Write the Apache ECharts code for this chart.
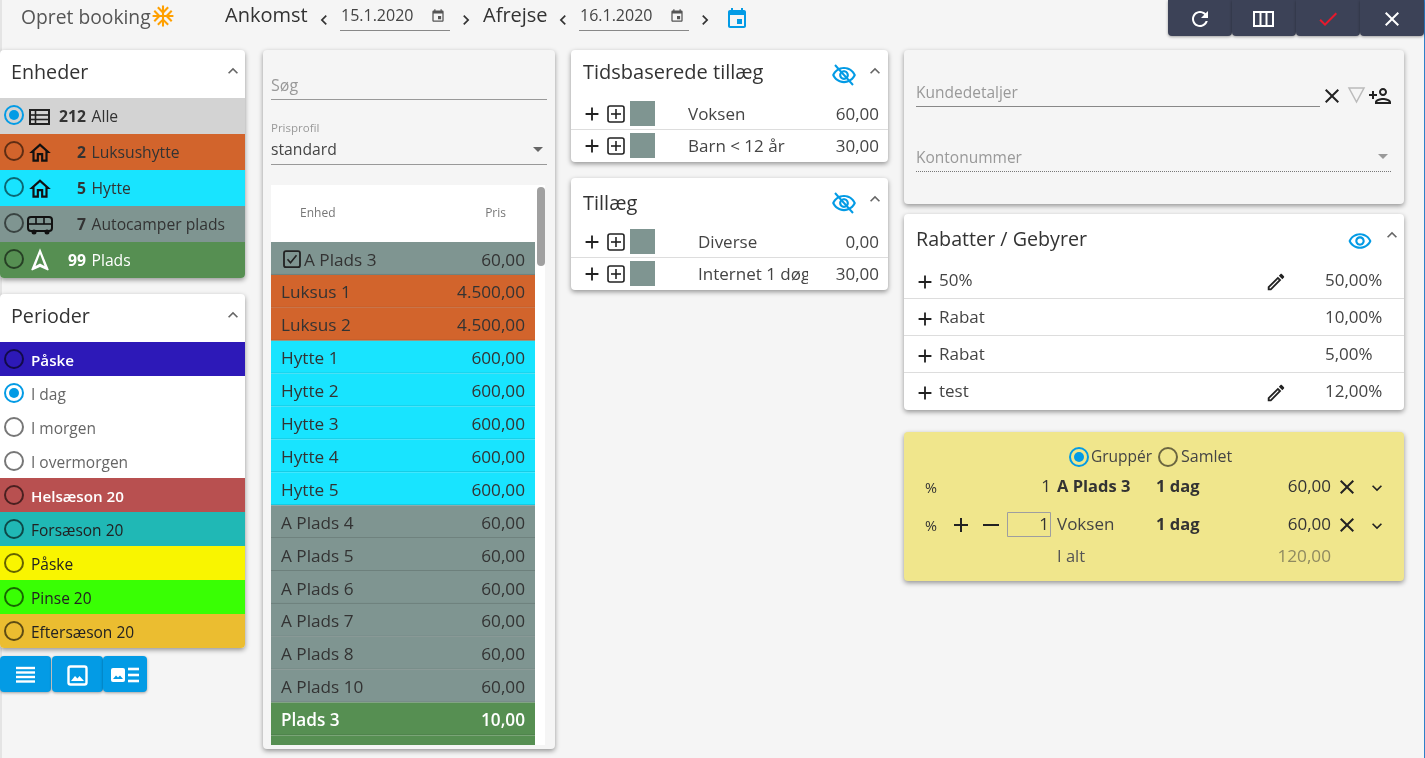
<!DOCTYPE html>
<html>
<head>
<meta charset="utf-8">
<title>Opret booking</title>
<style>
html,body{margin:0;padding:0;background:#f5f5f5;}
#main{width:1425px;height:758px;}
</style>
<script src="https://cdn.jsdelivr.net/npm/echarts@6/dist/echarts.min.js"></script>
</head>
<body>
<div id="main"></div>
<script>
// data
var unitCounts = ['212', '2', '5', '7', '99'];
var unitNames = ['Alle', 'Luksushytte', 'Hytte', 'Autocamper plads', 'Plads'];
var unitColors = ['#d3d3d3', '#d2642c', '#18e4ff', '#7f9591', '#568f52'];
var periodNames = ['Påske', 'I dag', 'I morgen', 'I overmorgen', 'Helsæson 20', 'Forsæson 20', 'Påske', 'Pinse 20', 'Eftersæson 20'];
var periodColors = ['#2d19b8', '#ffffff', '#ffffff', '#ffffff', '#b85050', '#20b8b5', '#f9f500', '#39ff04', '#ebbd30'];
var periodText = ['#ffffff', '#666666', '#666666', '#666666', '#ffffff', '#222222', '#222222', '#222222', '#222222'];
var priceNames = ['A Plads 3', 'Luksus 1', 'Luksus 2', 'Hytte 1', 'Hytte 2', 'Hytte 3', 'Hytte 4', 'Hytte 5', 'A Plads 4', 'A Plads 5', 'A Plads 6', 'A Plads 7', 'A Plads 8', 'A Plads 10', 'Plads 3', ''];
var priceValues = ['60,00', '4.500,00', '4.500,00', '600,00', '600,00', '600,00', '600,00', '600,00', '60,00', '60,00', '60,00', '60,00', '60,00', '60,00', '10,00', ''];
var priceColors = ['#7f9591', '#d2642c', '#d2642c', '#18e4ff', '#18e4ff', '#18e4ff', '#18e4ff', '#18e4ff', '#7f9591', '#7f9591', '#7f9591', '#7f9591', '#7f9591', '#7f9591', '#568f52', '#568f52'];
var timedNames = ['Voksen', 'Barn < 12 år'];
var timedValues = ['60,00', '30,00'];
var extraNames = ['Diverse', 'Internet 1 døgn'];
var extraValues = ['0,00', '30,00'];
var discountNames = ['50%', 'Rabat', 'Rabat', 'test'];
var discountValues = ['50,00%', '10,00%', '5,00%', '12,00%'];
var discountEditable = [true, false, false, true];

var FONT = '"Open Sans", sans-serif';
var BLUE = '#039be5';
var INK = '#333333';

// material icon paths, all on a 24 box
var ICON = {
  up: 'M12 8l-6 6 1.41 1.41L12 10.83l4.59 4.58L18 14z',
  down: 'M16.59 8.59L12 13.17 7.41 8.59 6 10l6 6 6-6z',
  left: 'M15.41 7.41L14 6l-6 6 6 6 1.41-1.41L10.83 12z',
  right: 'M10 6L8.59 7.41 13.17 12l-4.58 4.59L10 18l6-6z',
  event: 'M17 12h-5v5h5v-5zM16 1v2H8V1H6v2H5c-1.11 0-1.99.9-1.99 2L3 19c0 1.1.89 2 2 2h14c1.1 0 2-.9 2-2V5c0-1.1-.9-2-2-2h-1V1h-2zm3 18H5V8h14v11z',
  home: 'M12 5.69l5 4.5V18h-2v-6H9v6H7v-7.81l5-4.5M12 3L2 12h3v8h6v-6h2v6h6v-8h3L12 3z',
  nav: 'M12 2L4.5 20.29l.71.71L12 18l6.79 3 .71-.71z',
  eye: 'M12 6.5c3.79 0 7.17 2.13 8.82 5.5-1.65 3.37-5.02 5.5-8.82 5.5S4.83 15.37 3.18 12C4.83 8.63 8.21 6.5 12 6.5m0-2C7 4.5 2.73 7.61 1 12c1.73 4.39 6 7.5 11 7.5s9.27-3.11 11-7.5C21.27 7.61 17 4.5 12 4.5zm0 5c1.38 0 2.5 1.12 2.5 2.5s-1.12 2.5-2.5 2.5-2.5-1.12-2.5-2.5 1.12-2.5 2.5-2.5m0-2c-2.48 0-4.5 2.02-4.5 4.5s2.02 4.5 4.5 4.5 4.5-2.02 4.5-4.5-2.02-4.5-4.5-4.5z',
  add: 'M19 13h-6v6h-2v-6H5v-2h6V5h2v6h6v2z',
  close: 'M19 6.41L17.59 5 12 10.59 6.41 5 5 6.41 10.59 12 5 17.59 6.41 19 12 13.41 17.59 19 19 17.59 13.41 12z',
  check: 'M9 16.17L4.83 12l-1.42 1.41L9 19 21 7l-1.41-1.41z',
  refresh: 'M17.65 6.35C16.2 4.9 14.21 4 12 4c-4.42 0-7.99 3.58-7.99 8s3.57 8 7.99 8c3.73 0 6.84-2.55 7.73-6h-2.08c-.82 2.33-3.04 4-5.65 4-3.31 0-6-2.69-6-6s2.69-6 6-6c1.66 0 3.14.69 4.22 1.78L13 11h7V4l-2.35 2.35z',
  edit: 'M14.06 9.02l.92.92L5.92 19H5v-.92l9.06-9.06M17.66 3c-.25 0-.51.1-.7.29l-1.83 1.83 3.75 3.75 1.83-1.83c.39-.39.39-1.02 0-1.41l-2.34-2.34c-.2-.2-.45-.29-.71-.29zm-3.6 3.19L3 17.25V21h3.75L17.81 9.94l-3.75-3.75z',
  person: 'M15 12c2.21 0 4-1.79 4-4s-1.79-4-4-4-4 1.79-4 4 1.79 4 4 4zm0-6c1.1 0 2 .9 2 2s-.9 2-2 2-2-.9-2-2 .9-2 2-2zm0 8c-2.67 0-8 1.34-8 4v2h16v-2c0-2.66-5.33-4-8-4zm-6 4c.22-.72 3.31-2 6-2 2.7 0 5.8 1.29 6 2H9zm-3-3v-3h3v-2H6V7H4v3H1v2h3v3h2z',
  snow: 'M22 11h-4.17l3.24-3.24-1.41-1.42L15 11h-2V9l4.66-4.66-1.42-1.41L13 6.17V2h-2v4.17L7.76 2.93 6.34 4.34 11 9v2H9L4.34 6.34 2.93 7.76 6.17 11H2v2h4.17l-3.24 3.24 1.41 1.42L9 13h2v2l-4.66 4.66 1.42 1.41L11 17.83V22h2v-4.17l3.24 3.24 1.42-1.41L13 15v-2h2l4.66 4.66 1.41-1.42L17.83 13H22z'
};

// drawing helpers
function rect(x, y, w, h, fill, r, extra) {
  var style = { fill: fill };
  for (var k in (extra || {})) style[k] = extra[k];
  return { type: 'rect', shape: { x: x, y: y, width: w, height: h, r: r || 0 }, style: style };
}
function card(x, y, w, h, fill) {
  return rect(x, y, w, h, fill, 4, { shadowBlur: 5, shadowOffsetY: 2, shadowColor: 'rgba(0,0,0,0.4)' });
}
function line(x1, y1, x2, y2, color, width, dash) {
  return { type: 'line', shape: { x1: x1, y1: y1, x2: x2, y2: y2 },
    style: { stroke: color, lineWidth: width || 1, lineDash: dash || null } };
}
function text(str, x, y, size, color, align, weight) {
  return { type: 'text', style: {
    text: str, x: x, y: y + 1.5, fill: color || INK, align: align || 'left', verticalAlign: 'middle',
    font: (weight || 'normal') + ' ' + size + 'px ' + FONT
  } };
}
function icon(name, cx, cy, size, color) {
  return { type: 'path', shape: {
    pathData: 'M0 0h0M24 24h0' + ICON[name], layout: 'cover',
    x: cx - size / 2, y: cy - size / 2, width: size, height: size
  }, style: { fill: color || INK } };
}
function radio(cx, cy, color, selected) {
  var out = [{ type: 'circle', shape: { cx: cx, cy: cy, r: 9 }, style: { fill: 'none', stroke: color, lineWidth: 2 } }];
  if (selected) out.push({ type: 'circle', shape: { cx: cx, cy: cy, r: 5 }, style: { fill: color } });
  return out;
}
function addBox(cx, cy) {
  return [rect(cx - 8, cy - 8, 16, 16, 'none', 2, { stroke: '#222', lineWidth: 1.6 }),
    line(cx - 5, cy, cx + 5, cy, '#222', 1.6), line(cx, cy - 5, cx, cy + 5, '#222', 1.6)];
}
function addBoxChecked(cx, cy) {
  return [rect(cx - 8, cy - 8, 16, 16, 'none', 2, { stroke: '#222', lineWidth: 1.8 }),
    { type: 'polyline', shape: { points: [[cx - 4.5, cy], [cx - 1.5, cy + 3.5], [cx + 4.5, cy - 4]] }, style: { fill: 'none', stroke: '#222', lineWidth: 1.6 } }];
}

function buildChrome() {
  var c = [];
  function push(a) { c = c.concat(a); }
  c.push(rect(0, 0, 1425, 758, '#f5f5f5'));
  c.push(rect(0, 0, 2, 758, '#e4e4e4'));
  c.push(rect(1424, 0, 1, 758, '#2e80c8'));

  // top bar
  c.push(text('Opret booking', 21, 17, 19.3, '#555'));
  c.push(icon('snow', 163, 16, 25, '#ffa000'));
  c.push(text('Ankomst', 225, 15, 20, INK));
  c.push(icon('left', 324, 20, 20, INK));
  c.push(text('15.1.2020', 341, 15, 16, '#444'));
  c.push(icon('event', 438, 16, 15, '#555'));
  c.push(line(340, 30.5, 450, 30.5, '#888'));
  c.push(icon('right', 466, 20, 20, INK));
  c.push(text('Afrejse', 483, 15, 20, INK));
  c.push(icon('left', 563, 20, 20, INK));
  c.push(text('16.1.2020', 580, 15, 16, '#444'));
  c.push(icon('event', 677, 16, 15, '#555'));
  c.push(line(579, 30.5, 689, 30.5, '#888'));
  c.push(icon('right', 705, 20, 20, INK));
  c.push(icon('event', 737, 19, 24, BLUE));

  // action buttons
  [1168, 1232, 1296, 1360].forEach(function (x) {
    c.push(rect(x, 0, 64, 36, '#3c4257', [0, 0, 4, 4], { shadowBlur: 3, shadowOffsetY: 1, shadowColor: 'rgba(0,0,0,0.35)' }));
  });
  c.push(icon('refresh', 1200, 19, 24, '#fff'));
  c.push(rect(1254, 12, 19, 14, 'none', 0, { stroke: '#fff', lineWidth: 2 }));
  c.push(line(1260.5, 12, 1260.5, 26, '#fff', 2));
  c.push(line(1266.5, 12, 1266.5, 26, '#fff', 2));
  c.push(icon('check', 1328, 19, 24, '#e8192c'));
  c.push(icon('close', 1392, 19, 24, '#fff'));

  // Enheder
  c.push(card(0, 50, 245, 228, '#fff'));
  c.push(text('Enheder', 11, 72, 19.7, INK));
  c.push(icon('up', 233, 71, 20, '#666'));
  unitNames.forEach(function (name, i) {
    var y = 98 + 36 * i, cy = y + 18, isLast = i === 4;
    c.push(rect(0, y, 245, 36, unitColors[i], isLast ? [0, 0, 4, 4] : 0));
    push(radio(14, cy - 1, i === 0 ? BLUE : 'rgba(0,0,0,0.55)', i === 0));
    c.push(text(unitCounts[i], 86, cy, 15.7, isLast ? '#fff' : INK, 'right', 'bold'));
    c.push(text(name, 91.5, cy, 15.7, isLast ? '#fff' : INK));
  });
  c.push(rect(30, 110, 19, 14, 'none', 0, { stroke: '#222', lineWidth: 2 }));
  c.push(line(30, 115, 49, 115, '#222', 1.6), line(30, 119.5, 49, 119.5, '#222', 1.6), line(35.5, 110, 35.5, 124, '#222', 1.6));
  c.push(icon('home', 40, 153, 26, '#111'), icon('home', 40, 189, 26, '#111'));
  c.push(rect(28, 217, 24, 14, 'none', 3, { stroke: '#111', lineWidth: 2 }));
  c.push(line(28, 224, 52, 224, '#111', 1.6), line(36, 217, 36, 224, '#111', 1.6), line(44, 217, 44, 224, '#111', 1.6));
  c.push({ type: 'circle', shape: { cx: 34, cy: 232, r: 2.5 }, style: { fill: '#111' } });
  c.push({ type: 'circle', shape: { cx: 47, cy: 232, r: 2.5 }, style: { fill: '#111' } });
  c.push(icon('nav', 40, 260, 28, '#fff'));
  c.push({ type: 'polygon', shape: { points: [[40, 254], [35.5, 266], [40, 263.5], [44.5, 266]] }, style: { fill: '#568f52' } });

  // Perioder
  c.push(card(0, 294, 245, 354, '#fff'));
  c.push(text('Perioder', 11, 316, 19.7, INK));
  c.push(icon('up', 233, 315, 20, '#666'));
  periodNames.forEach(function (name, i) {
    var y = 342 + 34 * i, cy = y + 18;
    c.push(rect(0, y, 245, 34, periodColors[i], i === 8 ? [0, 0, 4, 4] : 0));
    var plain = periodColors[i] === '#ffffff';
    push(radio(14, cy - 1, i === 1 ? BLUE : (plain ? '#777' : 'rgba(0,0,0,0.6)'), i === 1));
    var bold = periodText[i] === '#ffffff';
    c.push(text(name, 31, cy, bold ? 15.2 : 15.5, periodText[i], 'left', bold ? 600 : 'normal'));
  });

  // view buttons
  [[0, 51], [52, 51], [103, 44]].forEach(function (b) {
    c.push(rect(b[0], 656, b[1], 36, BLUE, 4, { shadowBlur: 3, shadowOffsetY: 1, shadowColor: 'rgba(0,0,0,0.35)' }));
  });
  [668, 672.5, 677, 681.5].forEach(function (y) { c.push(line(16, y, 35, y, '#fff', 2.4)); });
  c.push(rect(68.5, 666.5, 18, 18, 'none', 2, { stroke: '#fff', lineWidth: 2.4 }));
  c.push({ type: 'polygon', shape: { points: [[71, 681], [75, 676], [77.5, 678.5], [79.5, 676], [84, 681]] }, style: { fill: '#fff' } });
  c.push(rect(111, 668, 14, 14, '#fff', 2));
  c.push({ type: 'polygon', shape: { points: [[113, 679], [116, 675.5], [118, 677.5], [120, 675.5], [123, 679]] }, style: { fill: BLUE } });
  [669, 675, 681].forEach(function (y) { c.push(line(128, y, 139, y, '#fff', 2.6)); });

  // search and price panel
  c.push(card(263, 50, 292, 699, '#f5f5f5'));
  c.push(text('Søg', 271, 85, 16, '#999'));
  c.push(line(271, 99.5, 547, 99.5, '#999'));
  c.push(text('Prisprofil', 271, 127, 11.5, '#999'));
  c.push(text('standard', 271, 149, 15.7, '#444'));
  c.push(line(271, 164.5, 547, 164.5, '#999'));
  c.push({ type: 'polygon', shape: { points: [[533, 147], [543, 147], [538, 152]] }, style: { fill: '#666' } });
  c.push(rect(271, 185, 274, 560, '#fff'));
  c.push(text('Enhed', 300, 212, 12, '#777'));
  c.push(text('Pris', 506, 212, 12, '#777', 'right'));
  c.push(rect(537, 187, 8, 79, '#a0a0a0', 4));

  // Tidsbaserede tillaeg / Tillaeg
  function addonCard(y, title, titleY, names, values, nameX) {
    c.push(card(571, y, 317, 112, '#fff'));
    c.push(text(title, 583, titleY, 20, INK));
    c.push(icon('eye', 844, y + 25, 26, BLUE));
    c.push(line(835, y + 15, 853, y + 35, BLUE, 2));
    c.push(icon('up', 875, y + 21, 20, '#666'));
    names.forEach(function (name, i) {
      var cy = y + 64 + 32 * i;
      c.push(text(name, nameX, cy, 17, '#444'));
      c.push(rect(808, cy - 12, 27, 24, '#fff'));
      c.push(text(values[i], 879, cy, 17, '#444', 'right'));
      c.push(icon('add', 592, cy, 22, '#222'));
      push(addBox(616, cy));
      c.push(rect(630, cy - 13, 25, 25, '#7f9591'));
    });
    c.push(line(571, y + 79.5, 888, y + 79.5, '#ddd'));
  }
  addonCard(50, 'Tidsbaserede tillæg', 72, timedNames, timedValues, 688);
  addonCard(178, 'Tillæg', 203, extraNames, extraValues, 698);

  // Kundedetaljer
  c.push(card(904, 50, 500, 154, '#f5f5f5'));
  c.push(text('Kundedetaljer', 916, 92, 15.5, '#999'));
  c.push(line(916, 106.5, 1320, 106.5, '#888'));
  c.push(icon('close', 1332, 96, 24, '#222'));
  c.push({ type: 'polygon', shape: { points: [[1349, 88], [1364, 88], [1356.5, 102]] }, style: { fill: 'none', stroke: '#bbb', lineWidth: 1.5 } });
  c.push(icon('person', 1380, 96, 24, '#222'));
  c.push(text('Kontonummer', 916, 157, 15.5, '#999'));
  c.push(line(916, 171.5, 1392, 171.5, '#777', 1, [1, 1]));
  c.push({ type: 'polygon', shape: { points: [[1378, 154], [1388, 154], [1383, 159]] }, style: { fill: '#999' } });

  // Rabatter / Gebyrer
  c.push(card(904, 214, 500, 196, '#fff'));
  c.push(text('Rabatter / Gebyrer', 916, 239, 19.7, INK));
  c.push(icon('eye', 1360, 241, 25, BLUE));
  c.push(icon('up', 1392, 235, 20, '#666'));
  discountNames.forEach(function (name, i) {
    var cy = 281 + 37 * i;
    c.push(icon('add', 925, cy + 1, 22, '#222'));
    c.push(text(name, 939, cy - 1, 17, '#444'));
    c.push(text(discountValues[i], 1325, cy - 1, 17, '#444'));
    if (discountEditable[i]) c.push(icon('edit', 1276, cy + 1, 22, '#222'));
    if (i < 3) c.push(line(904, cy + 17.5, 1404, cy + 17.5, '#ddd'));
  });

  // Booking summary
  c.push(card(904, 432, 500, 149, '#f0e68c'));
  push(radio(1079, 457, BLUE, true));
  c.push(text('Gruppér', 1091, 456, 15.5, '#444'));
  push(radio(1168, 457, '#6b6640', false));
  c.push(text('Samlet', 1181, 456, 16, '#444'));
  c.push(text('%', 925, 487, 14.5, INK));
  c.push(text('1', 1051, 486, 17, INK, 'right'));
  c.push(text('A Plads 3', 1057, 486, 16.5, INK, 'left', 'bold'));
  c.push(text('1 dag', 1156, 486, 16.5, INK, 'left', 'bold'));
  c.push(text('60,00', 1331, 486, 17, INK, 'right'));
  c.push(icon('close', 1347, 487, 24, '#222'));
  c.push(icon('down', 1377, 488, 20, '#222'));
  c.push(text('%', 925, 525, 14.5, INK));
  c.push(icon('add', 961, 525, 24, '#222'));
  c.push(line(983, 525, 999, 525, '#222', 2));
  c.push(rect(1007.5, 512.5, 43, 24, 'none', 0, { stroke: '#9e9ea0', lineWidth: 1 }));
  c.push(text('1', 1049, 524, 17, INK, 'right'));
  c.push(text('Voksen', 1057, 524, 17, '#444'));
  c.push(text('1 dag', 1156, 524, 16.5, INK, 'left', 'bold'));
  c.push(text('60,00', 1331, 524, 17, INK, 'right'));
  c.push(icon('close', 1347, 525, 24, '#222'));
  c.push(icon('down', 1377, 526, 20, '#222'));
  c.push(text('I alt', 1057, 556, 16.5, '#555'));
  c.push(text('120,00', 1331, 556, 17.2, '#8f8a60', 'right'));
  return c;
}

var ROW_H = 32.9;
var priceRows = priceNames.map(function (n, i) { return [0, i]; });

var chart = echarts.init(document.getElementById('main'));
chart.setOption({
  animation: false,
  backgroundColor: '#f5f5f5',
  grid: { left: 271, top: 242, width: 264, height: 503 },
  xAxis: { type: 'value', min: 0, max: 1, show: false },
  yAxis: { type: 'value', min: 0, max: 503 / ROW_H, inverse: true, show: false },
  series: [{
    type: 'custom',
    coordinateSystem: 'none',
    silent: true,
    z: 1,
    data: [[0]],
    renderItem: function () {
      return { type: 'group', children: buildChrome() };
    }
  }, {
    type: 'custom',
    coordinateSystem: 'cartesian2d',
    silent: true,
    clip: true,
    z: 2,
    encode: { x: 0, y: 1 },
    data: priceRows,
    renderItem: function (params, api) {
      var i = api.value(1);
      var a = api.coord([0, i]);
      var b = api.coord([1, i + 1]);
      var cy = (a[1] + b[1]) / 2 + 0.7;
      var color = priceColors[i];
      var light = color === '#568f52';
      var kids = [
        rect(a[0], a[1], b[0] - a[0], b[1] - a[1], color),
        line(a[0], b[1] - 0.5, b[0], b[1] - 0.5, 'rgba(0,0,0,0.14)'),
        text(priceNames[i], a[0] + (i === 0 ? 33 : 10), cy, 17.2, light ? '#fff' : INK, 'left', light ? 600 : 'normal'),
        text(priceValues[i], b[0] - 10, cy, 17.2, light ? '#fff' : INK, 'right', light ? 600 : 'normal')
      ];
      if (i === 0) kids = kids.concat(addBoxChecked(a[0] + 21, cy));
      return { type: 'group', children: kids };
    }
  }]
});
</script>
</body>
</html>
